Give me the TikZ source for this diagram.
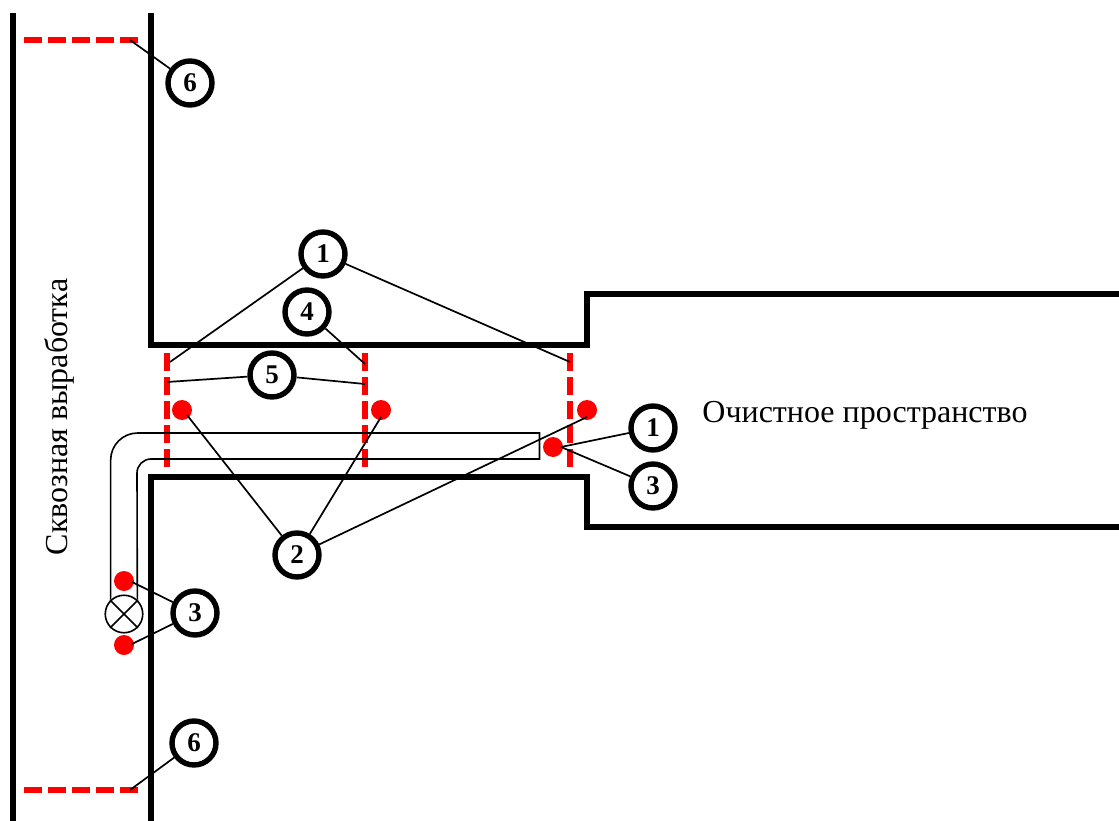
\documentclass[tikz,border=0pt]{standalone}
\usepackage{fontspec}
\setmainfont{Liberation Serif}

\tikzstyle{wall} = [line width=5.8pt, line join=miter]
\tikzstyle{sensorline} = [red, line width=6pt, dash pattern=on 17.6pt off 6.4pt]
\tikzstyle{tube} = [line width=1.6pt]
\tikzstyle{leader} = [line width=1.7pt]
\tikzstyle{numbered} = [draw, circle, line width=5.4pt, minimum size=44pt, inner sep=0pt, fill=white, font=\bfseries\fontsize{27}{27}\selectfont]
\tikzstyle{reddot} = [circle, fill=red, minimum size=20pt, inner sep=0pt]
\tikzstyle{lamp} = [draw, circle, line width=1.6pt, minimum size=37.5pt, inner sep=0pt, fill=white]
\tikzstyle{caption} = [inner sep=0pt, font=\fontsize{32}{32}\selectfont]

\begin{document}
\begin{tikzpicture}[x=1pt, y=-1pt]
\useasboundingbox (0,0) rectangle (1119,821);

% Walls
\draw [wall] (13,13) -- (13,821);
\draw [wall] (151,13) -- (151,345) -- (587,345) -- (587,294) -- (1119,294);
\draw [wall] (151,821) -- (151,477) -- (587,477) -- (587,527) -- (1119,527);

% Sensor lines
\draw [sensorline] (167,353.3) -- (167,467);
\draw [sensorline] (365,353.3) -- (365,467);
\draw [sensorline] (570,353.3) -- (570,467);
\draw [sensorline] (24,40) -- (139,40);
\draw [sensorline] (24,790) -- (139,790);

% Lamp and tube
\node (lamp1) [lamp] at (124,614) {};
\draw [tube] (lamp1.133) -- (lamp1.133 |- 0,460) arc (180:270:27) -- (539.5,433) -- (539.5,459) -- (151,459) arc (270:180:14) -- (lamp1.47);
\draw [tube] (lamp1.45) -- (lamp1.225);
\draw [tube] (lamp1.135) -- (lamp1.315);

% Red dots
\node (dot1) [reddot] at (182,410) {};
\node (dot2) [reddot] at (381,410) {};
\node (dot3) [reddot] at (587,410) {};
\node (dot4) [reddot] at (553,447) {};
\node (dot5) [reddot] at (124,581) {};
\node (dot6) [reddot] at (124,645) {};

% Numbers
\node (six1) [numbered] at (190,83) {6};
\node (one1) [numbered] at (323,254) {1};
\node (four1) [numbered] at (307,312) {4};
\node (five1) [numbered] at (272,375) {5};
\node (two1) [numbered] at (297,555) {2};
\node (three1) [numbered] at (195,613) {3};
\node (one2) [numbered] at (653,428) {1};
\node (three2) [numbered] at (653,486) {3};
\node (six2) [numbered] at (194,743) {6};

% Leader ends
\coordinate (end1) at (170,362);
\coordinate (end2) at (570,362);
\coordinate (end3) at (365,364);
\coordinate (end4) at (167,382);
\coordinate (end5) at (365,384);
\coordinate (end6) at (130,40);
\coordinate (end7) at (130,790);
\coordinate (end8) at ([xshift=5pt,yshift=-5pt]dot1.center);
\coordinate (end9) at ([yshift=-7pt]dot2.center);
\coordinate (end10) at ([yshift=-7pt]dot3.center);
\coordinate (end11) at ([xshift=8pt]dot4.center);
\coordinate (end12) at ([xshift=8pt,yshift=-1pt]dot5.center);
\coordinate (end13) at ([xshift=8pt,yshift=1pt]dot6.center);

% Leaders
\draw [leader] (one1) -- (end1);
\draw [leader] (one1) -- (end2);
\draw [leader] (four1) -- (end3);
\draw [leader] (five1) -- (end4);
\draw [leader] (five1) -- (end5);
\draw [leader] (six1) -- (end6);
\draw [leader] (six2) -- (end7);
\draw [leader] (two1) -- (end8);
\draw [leader] (two1) -- (end9);
\draw [leader] (two1) -- (end10);
\draw [leader] (one2) -- (end11);
\draw [leader] (three2) -- (end11);
\draw [leader] (three1) -- (end12);
\draw [leader] (three1) -- (end13);

% Captions
\node (shaft) [caption, rotate=90] at (59,417) {Сквозная выработка};
\node (room) [caption] at (865,415) {Очистное пространство};

\end{tikzpicture}
\end{document}
